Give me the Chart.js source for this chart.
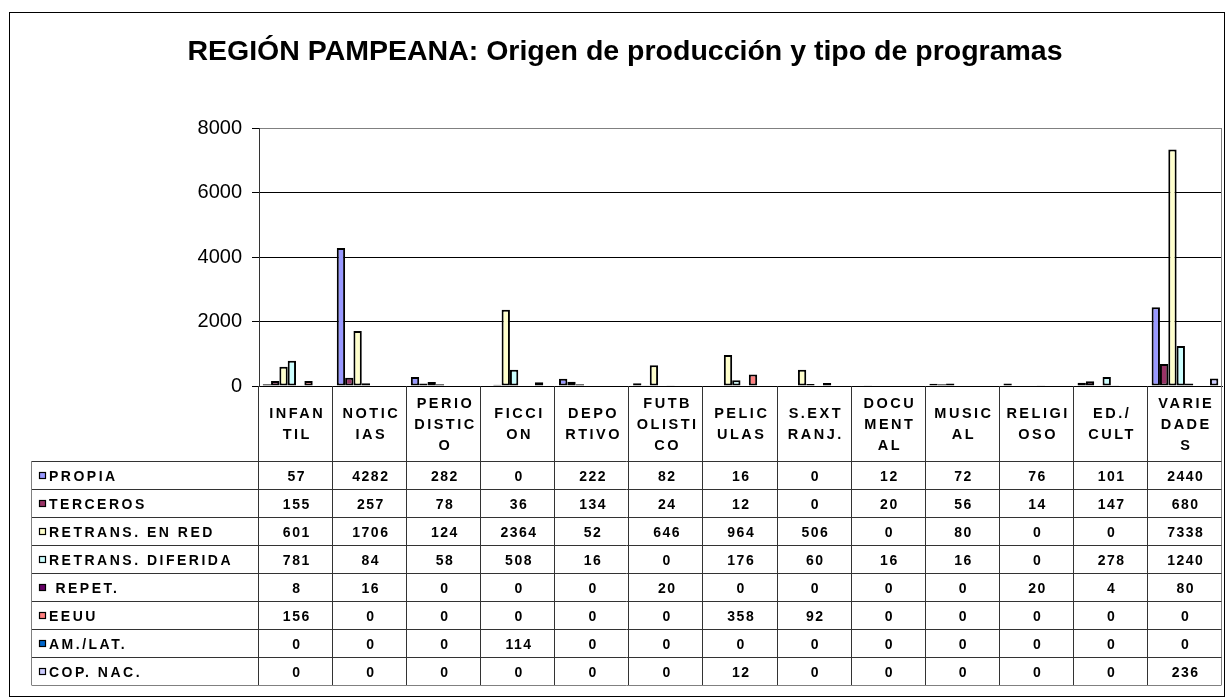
<!DOCTYPE html>
<html><head><meta charset="utf-8">
<script src="https://cdn.jsdelivr.net/npm/chart.js@4.4.0/dist/chart.umd.min.js"></script>
<style>html,body{margin:0;padding:0;background:#fff;}#wrap{position:relative;width:1226px;height:698px;}</style>
</head><body><div id="wrap"><canvas id="c" width="1226" height="698"></canvas></div>
<script>
const TITLE = "REGIÓN PAMPEANA: Origen de producción y tipo de programas";
const categories = [["INFAN","TIL"],["NOTIC","IAS"],["PERIO","DISTIC","O"],["FICCI","ON"],["DEPO","RTIVO"],["FUTB","OLISTI","CO"],["PELIC","ULAS"],["S.EXT","RANJ."],["DOCU","MENT","AL"],["MUSIC","AL"],["RELIGI","OSO"],["ED./","CULT"],["VARIE","DADE","S"]];
const seriesNames = ["PROPIA","TERCEROS","RETRANS. EN RED","RETRANS. DIFERIDA"," REPET.","EEUU","AM./LAT.","COP. NAC."];
const seriesColors = ["#9999FF","#993366","#FFFFCC","#CCFFFF","#660066","#FF8080","#0066CC","#CCCCFF"];
const propia    = [57,4282,282,0,222,82,16,0,12,72,76,101,2440];
const terceros  = [155,257,78,36,134,24,12,0,20,56,14,147,680];
const retransRed= [601,1706,124,2364,52,646,964,506,0,80,0,0,7338];
const retransDif= [781,84,58,508,16,0,176,60,16,16,0,278,1240];
const repet     = [8,16,0,0,0,20,0,0,0,0,20,4,80];
const eeuu      = [156,0,0,0,0,0,358,92,0,0,0,0,0];
const amLat     = [0,0,0,114,0,0,0,0,0,0,0,0,0];
const copNac    = [0,0,0,0,0,0,12,0,0,0,0,0,236];
const seriesValues = [propia,terceros,retransRed,retransDif,repet,eeuu,amLat,copNac];
const yTicks = [0,2000,4000,6000,8000];

const FONT = "'Liberation Sans', Arial, sans-serif";

const tablePlugin = {
  id:'tablePlugin',
  beforeDraw(chart){
    const ctx = chart.ctx;
    ctx.save();
    ctx.fillStyle='#fff';
    ctx.fillRect(0,0,chart.width,chart.height);
    ctx.strokeStyle='#000'; ctx.lineWidth=1;
    ctx.strokeRect(9.5,12.5,1215,684);
    ctx.restore();
  },
  afterDraw(chart){
    const ctx = chart.ctx;
    const xs = chart.scales.x;
    const ca = chart.chartArea;
    const n = categories.length;
    const colW = xs.width / n;
    const headTop = ca.bottom, headBot = ca.bottom + 75;
    const rowH = 28;
    const tblLeft = 31.5;
    const tblBot = headBot + rowH*seriesNames.length;
    ctx.save();
    ctx.strokeStyle='#808080'; ctx.lineWidth=1;
    ctx.beginPath(); ctx.moveTo(Math.round(ca.right)-0.5, ca.top); ctx.lineTo(Math.round(ca.right)-0.5, ca.bottom); ctx.stroke();
    for(let i=0;i<=n;i++){
      const x = Math.round(xs.left + colW*i)-0.5;
      ctx.strokeStyle = (i===n)?'#808080':'#333';
      ctx.beginPath(); ctx.moveTo(x, headTop); ctx.lineTo(x, tblBot); ctx.stroke();
    }
    for(let k=0;k<=seriesNames.length;k++){
      const y = Math.round(headBot + rowH*k)+0.5;
      ctx.strokeStyle = (k===seriesNames.length)?'#808080':'#333';
      ctx.beginPath(); ctx.moveTo(tblLeft, y); ctx.lineTo(Math.round(xs.right)-0.5, y); ctx.stroke();
    }
    ctx.strokeStyle='#808080';
    ctx.beginPath(); ctx.moveTo(tblLeft, headBot); ctx.lineTo(tblLeft, tblBot); ctx.stroke();
    ctx.fillStyle='#000';
    ctx.textAlign='center'; ctx.textBaseline='middle';
    ctx.font = "bold 14.5px "+FONT;
    const hs = 2.5;
    ctx.letterSpacing = hs+'px';
    const lh = 21;
    categories.forEach((lines,i)=>{
      const cx = xs.getPixelForValue(i) + hs/2;
      const cy = (headTop+headBot)/2;
      const y0 = cy - (lines.length-1)*lh/2;
      lines.forEach((t,j)=> ctx.fillText(t, cx, y0 + j*lh + 1));
    });
    ctx.font = "bold 14px "+FONT;
    ctx.letterSpacing = '2.5px';
    ctx.textAlign='left';
    seriesNames.forEach((name,k)=>{
      const cy = headBot + rowH*k + rowH/2 + 1;
      ctx.fillStyle = seriesColors[k];
      ctx.fillRect(39, Math.round(cy-4), 7, 7);
      ctx.strokeStyle='#000'; ctx.lineWidth=1.2;
      ctx.strokeRect(39.5, Math.round(cy-4)+0.5, 6, 6);
      ctx.fillStyle='#000';
      ctx.fillText(name, 49, cy+1);
    });
    ctx.textAlign='center';
    ctx.letterSpacing = '1.5px';
    seriesValues.forEach((arr,k)=>{
      const cy = headBot + rowH*k + rowH/2 + 2;
      arr.forEach((v,i)=>{
        ctx.fillText(String(v), xs.getPixelForValue(i)+0.75, cy);
      });
    });
    ctx.restore();
  }
};

new Chart(document.getElementById('c'), {
  type:'bar',
  data:{
    labels: categories.map(c=>c.join('')),
    datasets: seriesNames.map((name,k)=>({
      label:name, data:seriesValues[k], backgroundColor:seriesColors[k],
      borderColor:'#000', borderWidth:2, borderSkipped:false,
      categoryPercentage:0.9, barPercentage:1.0
    }))
  },
  options:{
    responsive:false, animation:false,
    layout:{padding:{left:28,right:4,top:0,bottom:0}},
    plugins:{
      legend:{display:false}, tooltip:{enabled:false},
      title:{display:true, text:TITLE, color:'#000',
        font:{family:FONT,size:28.5,weight:'bold'}, padding:{top:35,bottom:59}}
    },
    scales:{
      x:{grid:{display:false}, ticks:{display:false},
         border:{display:true,color:'#000',width:1},
         afterFit(s){ s.height = 312; }},
      y:{min:0,max:8000,
         afterBuildTicks(s){ s.ticks = yTicks.map(v=>({value:v})); },
         ticks:{font:{family:FONT,size:20}, color:'#000', padding:10, callback:v=>String(v)},
         grid:{color:c=> (c.tick && c.tick.value===8000)?'#808080':'#000', tickColor:'#000', tickLength:7, lineWidth:1},
         border:{color:'#333',width:1},
         afterFit(s){ s.width = 231; }}
    }
  },
  plugins:[tablePlugin]
});
</script></body></html>
